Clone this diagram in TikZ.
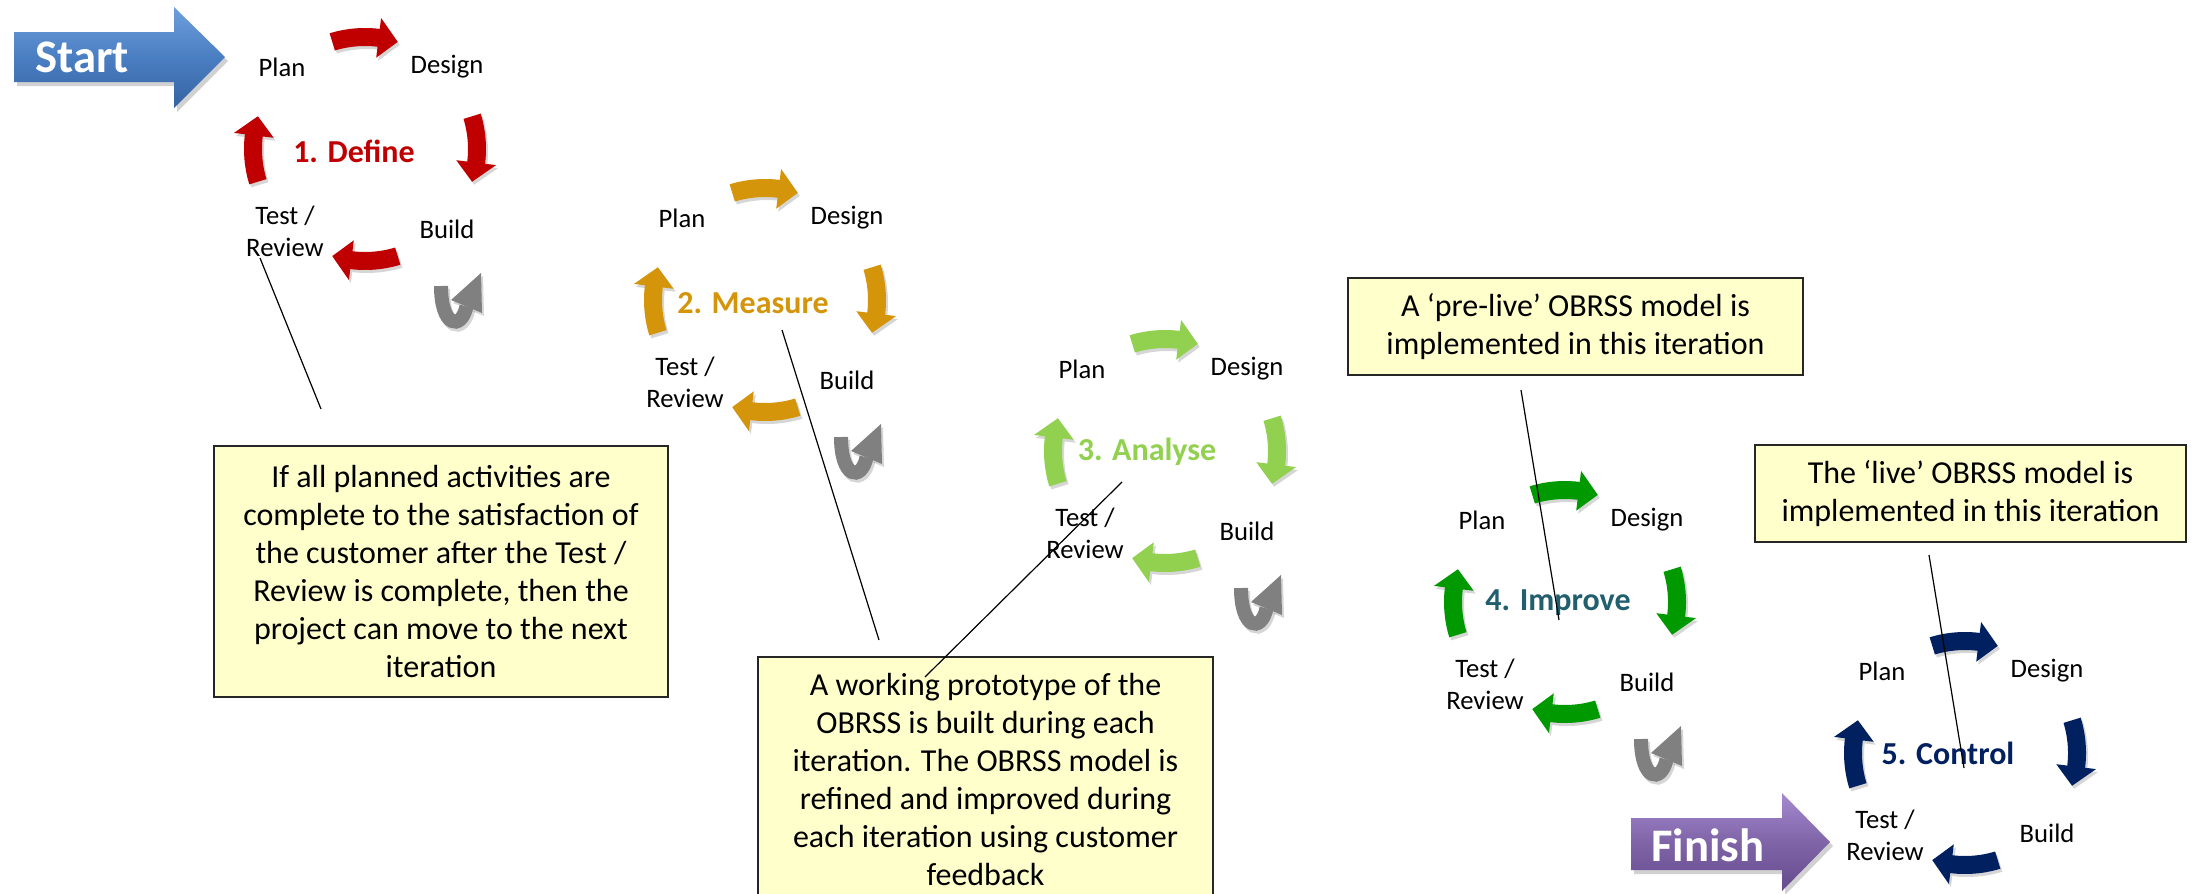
\documentclass[tikz,border=0pt]{standalone}
\usepackage{fontspec}
\setmainfont{Carlito}
\usetikzlibrary{calc}
\definecolor{cred}{HTML}{C00000}
\definecolor{cgold}{HTML}{D4950B}
\definecolor{clgreen}{HTML}{92D050}
\definecolor{cgreen}{HTML}{009A00}
\definecolor{cteal}{HTML}{215E6E}
\definecolor{cnavy}{HTML}{002060}
\definecolor{cgrey}{HTML}{808080}
\definecolor{cnote}{HTML}{FFFFCC}
\definecolor{bluetop}{HTML}{6E9FDC}
\definecolor{bluemid}{HTML}{4A7EC2}
\definecolor{bluebot}{HTML}{3563A2}
\definecolor{purptop}{HTML}{A58AD0}
\definecolor{purpmid}{HTML}{8064A8}
\definecolor{purpbot}{HTML}{664A8E}

% one curved arrow of a cycle, centred on angle #1, colour #2
\newcommand{\cyclearrow}[2]{%
  \pgfmathsetmacro\aS{#1-17}%
  \pgfmathsetmacro\aM{#1+7}%
  \pgfmathsetmacro\aE{#1+17}%
  \fill[#2] plot[domain=\aS:\aM,samples=16] (\x:121) -- (\aM:132) -- (\aE:112)
    -- (\aM:92) -- plot[domain=\aM:\aS,samples=16] (\x:103) -- cycle;}

\newcommand{\fourarrows}[1]{%
  \cyclearrow{-90}{#1}\cyclearrow{0}{#1}\cyclearrow{90}{#1}\cyclearrow{180}{#1}}

\newcommand{\uturn}[1]{%
  \draw[#1, line width=10.5pt, line cap=butt] (76,137) .. controls (76,178) and (96,182) .. (101.5,157.5);
  \fill[#1] (116,124) -- (86,151) -- (117,164) -- cycle;}

% #1 index, #2 centre, #3 colour, #4 1 = draw the grey u-turn
\newcommand{\itercycle}[4]{%
\begin{scope}[shift={(#2)}]
  \begin{scope}[shift={(2,3)}, opacity=0.16]
    \fourarrows{black}
  \end{scope}
  \fourarrows{#3}
  \node[lbl] (plan#1) at (-83,-82) {Plan};
  \node[lbl] (design#1) at (82,-82) {Design};
  \node[lbl] (build#1) at (82,80) {Build};
  \node[lbl] (test#1) at (-80,82) {Test /\\Review};
  \ifnum#4=1
    \begin{scope}[shift={(2,3)}, opacity=0.16]
      \uturn{black}
    \end{scope}
    \uturn{cgrey}
  \fi
\end{scope}}

\begin{document}
\begin{tikzpicture}[x=0.75pt,y=-0.75pt,
  lbl/.style={font=\fontsize{20}{24}\selectfont, align=center, inner sep=0pt},
  ttl/.style={font=\fontsize{24}{28}\selectfont\bfseries, inner sep=0pt},
  note/.style={draw=black!85, line width=1pt, fill=cnote,
    font=\fontsize{24}{28.5}\selectfont, align=center, inner sep=0pt},
  conn/.style={black, line width=0.9pt},
  bigtxt/.style={font=\fontsize{35}{40}\selectfont\bfseries, text=white, inner sep=0pt}]

\path[use as bounding box] (0,0) rectangle (2207,893);
\clip (0,0) rectangle (2207,893);
\fill[white] (0,0) rectangle (2207,893);

% Start arrow
\fill[black, opacity=0.18] (17,36) -- (177,36) -- (177,11) -- (228,61) -- (177,112) -- (177,86) -- (17,86) -- cycle;
\shade[top color=bluetop, bottom color=bluebot, middle color=bluemid]
  (14,32) -- (174,32) -- (174,7) -- (225,57) -- (174,108) -- (174,82) -- (14,82) -- cycle;
\node[bigtxt] (start) at (82,57) {Start};

% Finish arrow
\fill[black, opacity=0.18] (1634,822) -- (1785,822) -- (1785,797) -- (1833,846) -- (1785,895) -- (1785,874) -- (1634,874) -- cycle;
\shade[top color=purptop, bottom color=purpbot, middle color=purpmid]
  (1631,818) -- (1782,818) -- (1782,793) -- (1830,842) -- (1782,891) -- (1782,870) -- (1631,870) -- cycle;
\node[bigtxt] (finish) at (1708,845) {Finish};

% cycles
\itercycle{1}{365,149}{cred}{1}
\itercycle{2}{765,300}{cgold}{1}
\itercycle{3}{1165,451}{clgreen}{1}
\itercycle{4}{1565,602}{cgreen}{1}
\itercycle{5}{1965,753}{cnavy}{0}

\node[ttl, text=cred] (title1) at (354,151) {1. Define};
\node[ttl, text=cgold] (title2) at (753,303) {2. Measure};
\node[ttl, text=clgreen] (title3) at (1147,452) {3. Analyse};
\node[ttl, text=cteal] (title4) at (1558,603) {4. Improve};
\node[ttl, text=cnavy] (title5) at (1948,753) {5. Control};

% callouts
\node[note, minimum width=340.5pt, minimum height=188.25pt] (note1) at (441,571.5)
  {If all planned activities are\\complete to the satisfaction of\\the customer after the Test /\\Review is complete, then the\\project can move to the next\\iteration};
\node[note, minimum width=341.25pt, minimum height=183pt] (note2) at (985.5,779)
  {A working prototype of the\\OBRSS is built during each\\iteration. The OBRSS model is\\refined and improved during\\each iteration using customer\\feedback};
\node[note, minimum width=341.25pt, minimum height=72.75pt] (note3) at (1575.5,326.5)
  {A ‘pre-live’ OBRSS model is\\implemented in this iteration};
\node[note, minimum width=323.25pt, minimum height=72.75pt] (note4) at (1970.5,493.5)
  {The ‘live’ OBRSS model is\\implemented in this iteration};

% callout pointer lines
\coordinate (l1a) at (321,409); \coordinate (l1b) at (260,258);
\coordinate (l2a) at (879,640); \coordinate (l2b) at (782,330);
\coordinate (l3a) at (925,677); \coordinate (l3b) at (1122,482);
\coordinate (l4a) at (1521,390); \coordinate (l4b) at (1559,620);
\coordinate (l5a) at (1929,555); \coordinate (l5b) at (1964,768);
\draw[conn] (l1a) -- (l1b);
\draw[conn] (l2a) -- (l2b);
\draw[conn] (l3a) -- (l3b);
\draw[conn] (l4a) -- (l4b);
\draw[conn] (l5a) -- (l5b);
\end{tikzpicture}
\end{document}
